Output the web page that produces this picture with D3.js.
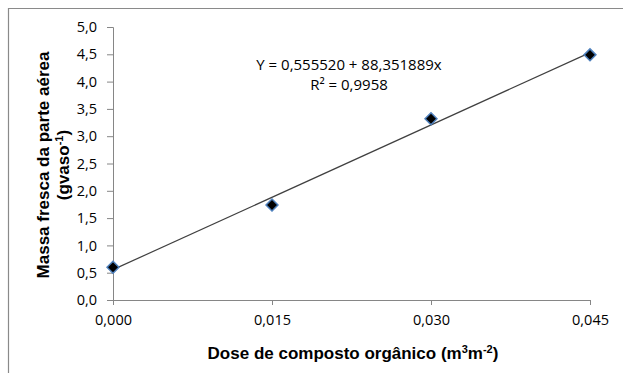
<!DOCTYPE html>
<html>
<head>
<meta charset="utf-8">
<script src="https://cdn.jsdelivr.net/npm/d3@7"></script>
<style>
  body { margin: 0; background: #fff; }
  svg { display: block; }
</style>
</head>
<body>
<svg id="chart"></svg>
<script>
// data
const doses = [0, 0.015, 0.030, 0.045]
const massa = [0.60, 1.74, 3.32, 4.49]
const xTicks = [0, 0.015, 0.030, 0.045]
const yTicks = [0, 0.5, 1, 1.5, 2, 2.5, 3, 3.5, 4, 4.5, 5]
const intercept = 0.555520
const slope = 88.351889
const eqLines = ["Y = 0,555520 + 88,351889x", "R² = 0,9958"]

const width = 623
const height = 373
const margin = { top: 27, right: 33, bottom: 73, left: 113 }
const innerWidth = width - margin.left - margin.right
const innerHeight = height - margin.top - margin.bottom

const svg = d3.select("#chart").attr("width", width).attr("height", height)

// outer frame, only top and left edges are in view
svg.append("path")
  .attr("d", `M8.5,${height} V8.5 H${width}`)
  .attr("fill", "none").attr("stroke", "#8a8a8a").attr("stroke-width", 1.2)

const g = svg.append("g").attr("transform", `translate(${margin.left}, ${margin.top})`)

// scales
const xScale = d3.scaleLinear().domain([0, 0.045]).range([0, innerWidth])
const yScale = d3.scaleLinear().domain([0, 5]).range([innerHeight, 0])

const comma = (f) => (d) => d3.format(f)(d).replace(".", ",")

// axes
const xAxis = d3.axisBottom(xScale).tickValues(xTicks).tickFormat(comma(".3f")).tickSizeOuter(0).tickSize(5).tickPadding(10)
const yAxis = d3.axisLeft(yScale).tickValues(yTicks).tickFormat(comma(".1f")).tickSizeOuter(0).tickSize(6).tickPadding(10)

const xg = g.append("g").attr("transform", `translate(0, ${innerHeight})`).call(xAxis)
const yg = g.append("g").call(yAxis)

;[xg, yg].forEach((ax) => {
  ax.select(".domain").attr("stroke", "#868686")
  ax.selectAll(".tick line").attr("stroke", "#868686")
  ax.selectAll(".tick text").attr("fill", "#000").style("font-family", "Open Sans").style("font-size", "14.5px")
})

// regression line
const line = d3.line().x((d) => xScale(d)).y((d) => yScale(intercept + slope * d))
g.append("path")
  .datum([0, 0.045])
  .attr("fill", "none").attr("stroke", "#404040").attr("stroke-width", 1.2)
  .attr("d", line)

// diamond markers
const diamond = d3.symbol().type(d3.symbolDiamond2).size(90)
g.selectAll(".pt")
  .data(doses)
  .enter()
  .append("path")
  .attr("class", "pt")
  .attr("d", diamond)
  .attr("transform", (d, i) => `translate(${xScale(d)}, ${yScale(massa[i])})`)
  .attr("fill", "#000").attr("stroke", "#4f81bd").attr("stroke-width", 1.5)

// equation
const eq = svg.append("text")
  .attr("text-anchor", "middle")
  .style("font-family", "Open Sans").style("font-size", "15px")
eqLines.forEach((t, i) => {
  eq.append("tspan").attr("x", 349).attr("y", 70 + i * 20).text(t)
})

// axis titles
svg.append("text")
  .attr("x", 353).attr("y", 359)
  .attr("text-anchor", "middle")
  .style("font-family", "Liberation Sans").style("font-weight", "bold").style("font-size", "17px")
  .html('Dose de composto orgânico (m<tspan dy="-6" font-size="11px">3</tspan><tspan dy="6">m</tspan><tspan dy="-6" font-size="11px">-2</tspan><tspan dy="6">)</tspan>')

const yt = svg.append("text")
  .attr("transform", "translate(49, 165) rotate(-90)")
  .attr("text-anchor", "middle")
  .style("font-family", "Liberation Sans").style("font-weight", "bold").style("font-size", "17px")
yt.append("tspan").attr("x", 0).attr("y", 0).text("Massa fresca da parte aérea")
const l2 = yt.append("tspan").attr("x", 0).attr("y", 20)
l2.append("tspan").text("(gvaso")
l2.append("tspan").attr("dy", -6).attr("font-size", "11px").text("-1")
l2.append("tspan").attr("dy", 6).text(")")
</script>
</body>
</html>
